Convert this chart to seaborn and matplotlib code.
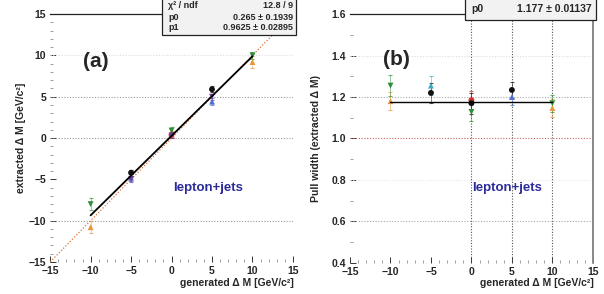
import matplotlib
matplotlib.use("Agg")
import matplotlib.pyplot as plt
import numpy as np
import pandas as pd
import seaborn as sns
from matplotlib.patches import Rectangle
from matplotlib.ticker import MultipleLocator

sns.set_theme(style="white")
plt.rcParams["font.family"] = ["Liberation Sans", "DejaVu Sans"]
plt.rcParams["font.weight"] = "bold"

# ---- panel (a): extracted vs generated mass shift ----
a_black_x = [-5, 5]
a_black_y = [-4.2, 5.9]
a_black_e = [0.35, 0.35]
a_blue_x = [-5, 5]
a_blue_y = [-4.8, 4.4]
a_blue_e = [0.4, 0.45]
a_purple_x = [-5, 0, 5]
a_purple_y = [-5.0, 0.3, 5.0]
a_purple_e = [0.35, 0.35, 0.35]
a_green_x = [-10, 0, 10]
a_green_y = [-8.0, 0.9, 10.0]
a_green_e = [0.7, 0.4, 0.4]
a_orange_x = [-10, 0, 10]
a_orange_y = [-10.8, 0.5, 9.2]
a_orange_e = [0.7, 0.4, 0.7]
a_red_x = [0]
a_red_y = [0.4]
a_red_e = [0.35]
a_p0, a_p0_err = 0.265, 0.1939
a_p1, a_p1_err = 0.9625, 0.02895
a_chi2, a_ndf = 12.8, 9

# ---- panel (b): pull width ----
b_black_x = [-5, 0, 5]
b_black_y = [1.22, 1.17, 1.234]
b_black_e = [0.05, 0.05, 0.04]
b_cyan_x = [-5]
b_cyan_y = [1.255]
b_cyan_e = [0.045]
b_blue_x = [5]
b_blue_y = [1.20]
b_blue_e = [0.04]
b_green_x = [-10, 0, 10]
b_green_y = [1.255, 1.128, 1.17]
b_green_e = [0.05, 0.045, 0.04]
b_orange_x = [-10, 10]
b_orange_y = [1.18, 1.147]
b_orange_e = [0.045, 0.045]
b_red_x = [0]
b_red_y = [1.185]
b_red_e = [0.045]
b_p0, b_p0_err = 1.177, 0.01137

COLORS = {"black": "#111111", "blue": "#4f6fd0", "purple": "#6a3fa8",
          "green": "#2f8f3a", "orange": "#e8963a", "red": "#d03030",
          "cyan": "#3ca8c8"}
MARKERS = {"black": "o", "blue": "^", "purple": "v", "green": "v",
           "orange": "^", "red": "o", "cyan": "^"}


def make_df(series):
    rows = []
    for name, (xs, ys, es) in series.items():
        for x, y, e in zip(xs, ys, es):
            rows.append({"x": x, "y": y, "err": e, "series": name})
    return pd.DataFrame(rows)


df_a = make_df({
    "orange": (a_orange_x, a_orange_y, a_orange_e),
    "green": (a_green_x, a_green_y, a_green_e),
    "red": (a_red_x, a_red_y, a_red_e),
    "blue": (a_blue_x, a_blue_y, a_blue_e),
    "purple": (a_purple_x, a_purple_y, a_purple_e),
    "black": (a_black_x, a_black_y, a_black_e),
})
df_b = make_df({
    "orange": (b_orange_x, b_orange_y, b_orange_e),
    "green": (b_green_x, b_green_y, b_green_e),
    "cyan": (b_cyan_x, b_cyan_y, b_cyan_e),
    "blue": (b_blue_x, b_blue_y, b_blue_e),
    "red": (b_red_x, b_red_y, b_red_e),
    "black": (b_black_x, b_black_y, b_black_e),
})

fig = plt.figure(figsize=(6.04, 2.94), dpi=100)
ax_a = fig.add_axes([0.083, 0.109, 0.402, 0.843])
ax_b = fig.add_axes([0.5795, 0.106, 0.402, 0.846])

tick_kw = dict(labelsize=7.5, direction="in", pad=3)


def points(ax, df):
    for _, r in df.iterrows():
        ax.errorbar(r["x"], r["y"], yerr=r["err"], fmt="none",
                    ecolor=COLORS[r["series"]], elinewidth=0.5,
                    capsize=1.6, capthick=0.8, alpha=0.7, zorder=3)
    sns.scatterplot(data=df, x="x", y="y", hue="series", style="series",
                    palette=COLORS, markers=MARKERS, s=18, linewidth=0,
                    legend=False, ax=ax, zorder=4)


def frame(ax, xmajor, ymajor, yminor):
    for s in ("left", "bottom", "right"):
        ax.spines[s].set_visible(False)
    ax.spines["top"].set_color("#222222")
    ax.spines["top"].set_linewidth(0.9)
    ax.xaxis.set_major_locator(MultipleLocator(xmajor))
    ax.xaxis.set_minor_locator(MultipleLocator(1))
    ax.yaxis.set_major_locator(MultipleLocator(ymajor))
    ax.yaxis.set_minor_locator(MultipleLocator(yminor))
    ax.tick_params(axis="both", which="major", length=4, width=0.7,
                   color="#333333", left=True, bottom=True, **tick_kw)
    ax.tick_params(axis="both", which="minor", length=2, width=0.5,
                   color="#777777", left=True, bottom=True, direction="in")
    ax.set_xlabel("")
    ax.set_ylabel("")
    for lab in ax.get_xticklabels() + ax.get_yticklabels():
        lab.set_fontweight("bold")


# ---- panel (a) ----
ax = ax_a
ax.set_xlim(-15, 15)
ax.set_ylim(-15, 15)
for yv, c in [(10, "#dddddd"), (5, "#999999"), (0, "#999999"), (-10, "#999999")]:
    ax.axhline(yv, color=c, ls=(0, (1, 1.5)), lw=0.8, zorder=1)
diag = np.array([-15, 15])
ax.plot(diag, diag, color="#d9703a", ls=(0, (1, 1.5)), lw=0.9, zorder=2)
fit_x = np.array([-10, 10])
sns.lineplot(x=fit_x, y=a_p0 + a_p1 * fit_x, color="black", lw=1.3, ax=ax, zorder=5)
points(ax, df_a)
frame(ax, 5, 5, 1)
ax.text(-9.3, 9.3, "(a)", fontsize=15, fontweight="bold", ha="center", va="center")
ax.text(0.2, -6.05, "lepton+jets", fontsize=9.5, fontweight="bold",
        color="#2b2b9a", ha="left", va="center")

# ---- panel (b) ----
ax = ax_b
ax.set_xlim(-15, 15)
ax.set_ylim(0.4, 1.6)
for yv, c in [(1.4, "#dddddd"), (1.2, "#aaaaaa"), (0.8, "#e6e6e6"), (0.6, "#aaaaaa")]:
    ax.axhline(yv, color=c, ls=(0, (1, 1.5)), lw=0.8, zorder=1)
ax.axhline(1.0, color="#d06060", ls=(0, (1, 1.5)), lw=0.8, zorder=1)
for xv in (0, 5, 10):
    ax.axvline(xv, color="#555555", ls=(0, (1, 1.5)), lw=0.8, zorder=1)
ax.plot([15, 15], [0.4, 1.6], color="#888888", lw=1.4, clip_on=False)
sns.lineplot(x=fit_x, y=np.full(2, b_p0), color="black", lw=1.0, ax=ax, zorder=5)
points(ax, df_b)
frame(ax, 5, 0.2, 0.1)
ax.text(-9.3, 1.38, "(b)", fontsize=15, fontweight="bold", ha="center", va="center")
ax.text(0.06, 0.76, "lepton+jets", fontsize=9.5, fontweight="bold",
        color="#2b2b9a", ha="left", va="center")

# ---- axis titles ----
fig.text(0.035, 0.53, "extracted \u0394 M [GeV/c\u00b2]", rotation=90, fontsize=7.5,
         fontweight="bold", ha="center", va="center")
fig.text(0.487, 0.038, "generated \u0394 M [GeV/c\u00b2]", fontsize=7.5,
         fontweight="bold", ha="right", va="center")
fig.text(0.523, 0.53, "Pull width (extracted \u0394 M)", rotation=90, fontsize=7.5,
         fontweight="bold", ha="center", va="center")
fig.text(0.984, 0.038, "generated \u0394 M [GeV/c\u00b2]", fontsize=7.5,
         fontweight="bold", ha="right", va="center")

# ---- fit stat boxes ----
W, H = 604, 294


def box(x0, y0, x1, y1):
    fig.patches.append(Rectangle((x0 / W, 1 - y1 / H), (x1 - x0) / W, (y1 - y0) / H,
                                 transform=fig.transFigure, facecolor="#f2f2f2",
                                 edgecolor="#222222", lw=0.9, zorder=10))


box(162, -2, 296, 35)
rows_a = [("\u03c7\u00b2 / ndf", f"{a_chi2:.1f} / {a_ndf}"),
          ("p0", f"{a_p0:.3f} \u00b1 {a_p0_err:.4f}"),
          ("p1", f"{a_p1:.4f} \u00b1 {a_p1_err:.5f}")]
for i, (k, v) in enumerate(rows_a):
    yy = 1 - (6 + i * 11) / H
    fig.text(168 / W, yy, k, fontsize=6.5, ha="left", va="center", zorder=11)
    fig.text(293 / W, yy, v, fontsize=6.5, ha="right", va="center", zorder=11)

box(465, -2, 596, 20)
fig.text(471 / W, 1 - 9 / H, "p0", fontsize=7.5, ha="left", va="center", zorder=11)
fig.text(592 / W, 1 - 9 / H, f"{b_p0:.3f} \u00b1 {b_p0_err:.5f}", fontsize=7.5,
         ha="right", va="center", zorder=11)

fig.savefig("out.png", dpi=100)
